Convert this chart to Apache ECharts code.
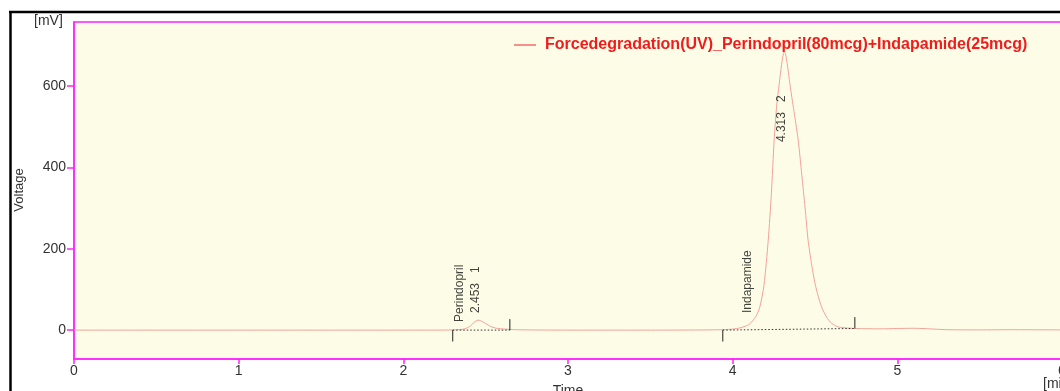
<!DOCTYPE html>
<html>
<head>
<meta charset="utf-8">
<script src="https://cdn.jsdelivr.net/npm/echarts@6/dist/echarts.min.js"></script>
<style>
html,body{margin:0;padding:0;background:#fff;overflow:hidden;}
#chart{width:1060px;height:391px;}
</style>
</head>
<body>
<div id="chart"></div>
<script>
// ---- data ----
var seriesName = 'Forcedegradation(UV)_Perindopril(80mcg)+Indapamide(25mcg)';
var times = [0, 0.5, 1, 1.5, 2.0, 2.2, 2.3, 2.35, 2.38, 2.41, 2.43, 2.453, 2.47, 2.5, 2.53, 2.56, 2.6, 2.65, 2.7, 2.8, 3.0, 3.5, 3.8, 3.9, 3.95, 4.0, 4.05, 4.1, 4.14, 4.165, 4.19, 4.216, 4.235, 4.252, 4.267, 4.282, 4.297, 4.305, 4.313, 4.321, 4.331, 4.351, 4.375, 4.398, 4.42, 4.44, 4.458, 4.48, 4.5, 4.52, 4.54, 4.57, 4.6, 4.64, 4.7, 4.75, 4.8, 4.9, 5.0, 5.1, 5.2, 5.3, 5.5, 5.7, 6.0];
var voltage = [0, 0, 0, 0, 0, 0, 0.5, 1.5, 4, 11, 19, 24.5, 23, 16, 9, 5, 3, 1.5, 0.8, 0.3, 0, 0, 0.3, 0.8, 1.2, 2.5, 6, 14, 33, 57, 110, 221, 335, 467, 550, 603, 652, 673, 684, 678, 655, 595, 530, 467, 380, 300, 221, 160, 115, 82, 57, 32, 17, 8, 5, 4, 3.5, 3, 4, 4.5, 3, 1, 0.5, 1, 0.5];
var yTickValues = [0, 200, 400, 600];
var xTickLabels = [0, 1, 2, 3, 4, 5, 6];
// integration baselines [t1, v1, t2, v2]
var baselines = [[2.30, 0, 2.647, 0], [3.94, 0, 4.742, 4]];
// integration markers [t, vFrom, vTo]
var markers = [[2.30, 0, -28], [2.647, 0, 27], [3.94, 0, -28], [4.742, 4, 32]];
// peak annotations [t, v, text]
var annotations = [
  [2.344, 20, 'Perindopril'],
  [2.437, 42, '2.453   1'],
  [4.297, 462, '4.313   2'],
  [4.09, 42, 'Indapamide']
];

var lineData = times.map(function (t, i) { return [t, voltage[i]]; });

var series = [{
  name: seriesName,
  type: 'line',
  data: lineData,
  symbol: 'none',
  smooth: 0.25,
  lineStyle: { color: '#F2A199', width: 1 },
  itemStyle: { color: '#F2A199' },
  silent: true,
  z: 3
}];
baselines.forEach(function (b) {
  series.push({
    type: 'line', data: [[b[0], b[1]], [b[2], b[3]]], symbol: 'none', silent: true,
    lineStyle: { color: '#333', width: 1, type: [1.5, 2] }, z: 4
  });
});
markers.forEach(function (m) {
  series.push({
    type: 'line', data: [[m[0], m[1]], [m[0], m[2]]], symbol: 'none', silent: true,
    lineStyle: { color: '#222', width: 1 }, z: 4
  });
});
series.push({
  type: 'scatter',
  symbolSize: 0,
  silent: true,
  data: annotations.map(function (a) {
    return { value: [a[0], a[1]], label: { formatter: a[2] } };
  }),
  label: {
    show: true, rotate: 90, position: [0, 0], align: 'left', verticalAlign: 'middle',
    color: '#111', fontFamily: 'Liberation Sans', fontSize: 12
  },
  z: 5
});

var chart = echarts.init(document.getElementById('chart'), null, { renderer: 'canvas', width: 1060, height: 391 });
chart.setOption({
  animation: false,
  backgroundColor: '#ffffff',
  grid: {
    left: 74, top: 22, width: 988, height: 337,
    outerBoundsMode: 'none', containLabel: false,
    show: true, backgroundColor: '#FDFDE7', borderColor: '#FF22FF', borderWidth: 1.5
  },
  legend: {
    data: [{ name: seriesName, icon: 'rect', itemStyle: { color: '#F26B6B' } }],
    left: 509, top: 32,
    itemWidth: 22, itemHeight: 1.5, itemGap: 10,
    textStyle: { color: '#F21B1B', fontWeight: 'bold', fontSize: 16, fontFamily: 'Liberation Sans', padding: [0, 0, 0, 4] },
    selectedMode: false
  },
  xAxis: {
    type: 'value', min: 0, max: 6, interval: 1,
    axisLine: { show: true, onZero: false, lineStyle: { color: '#FF22FF', width: 1.5 } },
    axisTick: { show: true, length: 5, lineStyle: { color: '#FF22FF', width: 1.5 } },
    axisLabel: {
      color: '#333', fontSize: 14, fontFamily: 'Liberation Sans', margin: 5,
      formatter: function (v) { return xTickLabels.indexOf(v) >= 0 ? String(v) : ''; }
    },
    splitLine: { show: false }
  },
  yAxis: {
    type: 'value', min: -71, max: 757,
    axisLine: { show: true, onZero: false, lineStyle: { color: '#FF22FF', width: 1.5 } },
    axisTick: { show: true, length: 7, customValues: yTickValues, lineStyle: { color: '#FF22FF', width: 1.5 } },
    axisLabel: { color: '#333', fontSize: 14, fontFamily: 'Liberation Sans', margin: 8, customValues: yTickValues },
    splitLine: { show: false }
  },
  graphic: [
    { type: 'line', shape: { x1: 10.5, y1: 12, x2: 10.5, y2: 391 }, style: { stroke: '#000', lineWidth: 2.5 } },
    { type: 'line', shape: { x1: 9, y1: 12, x2: 1060, y2: 12 }, style: { stroke: '#000', lineWidth: 2.5 } },
    { type: 'text', left: 34, top: 14, style: { text: '[mV]', fill: '#333', font: '14px "Liberation Sans"' } },
    { type: 'text', x: 19, y: 190, rotation: Math.PI / 2, style: { text: 'Voltage', fill: '#333', font: '13px "Liberation Sans"', textAlign: 'center', textVerticalAlign: 'middle' } },
    { type: 'text', x: 568, y: 384, style: { text: 'Time', fill: '#333', font: '14px "Liberation Sans"', textAlign: 'center' } },
    { type: 'text', x: 1043, y: 377, style: { text: '[min]', fill: '#333', font: '14px "Liberation Sans"' } }
  ],
  series: series
});
</script>
</body>
</html>
